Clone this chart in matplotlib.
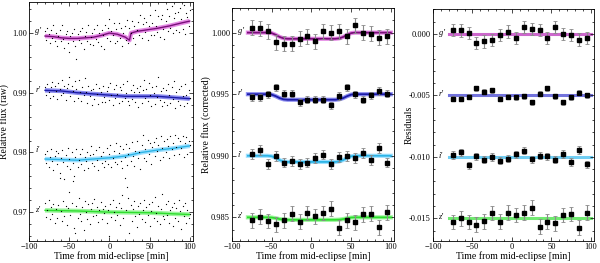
import numpy as np
import matplotlib.pyplot as plt
from matplotlib.ticker import AutoMinorLocator, FormatStrFormatter

plt.rcParams['font.family'] = ['Liberation Serif', 'DejaVu Serif']
plt.rcParams['font.size'] = 6.5

# ---- left panel: raw light curves (values in 1e-4 relative to band level) ----
t_raw_start, t_raw_step = -80, 1.5
g_raw = [3, -11, 9, -2, -17, 5, -9, 13, -14, 0,
         -22, -5, 5, -14, 13, -10, -25, -1, 4, -17,
         -31, -5, 0, -14, 6, -22, -43, -2, -11, 3,
         -16, 8, -27, -5, 2, -14, 14, -19, -7, 0,
         -20, 7, -10, 13, -15, 0, -22, 5, -4, -26,
         13, -8, 8, 23, -13, 4, -4, 16, -16, 7,
         -14, 17, -9, 8, -22, 0, 11, -12, 22, -17,
         9, 0, 20, -9, 12, -19, 5, 18, -4, 30,
         -8, 15, 26, 2, 19, -11, 12, 31, -3, 17,
         -3, 39, 11, 2, 28, -6, 23, 31, 6, -10,
         21, 40, 3, 29, 8, 46, 0, 25, 34, 5,
         36, 2, 42, 23, 7, 47, -2, 33, 27, 12,
         38]
r_raw = [10, -3, 14, 1, -8, 9, 18, -6, 12, 3,
         -10, 16, 6, -4, 21, 0, 11, -12, 8, 15,
         27, -5, 12, 3, -14, 19, 7, -9, 22, 1,
         -13, 9, -4, 24, 2, -17, 11, -6, 5, -20,
         6, -11, 14, -2, -19, 8, 1, -15, 11, -7,
         -16, 3, 10, -12, 17, -4, -21, 6, -9, 13,
         -2, -18, 9, 4, -14, 15, -8, 0, 20, -13,
         -20, 5, -10, 13, 1, -16, 8, -24, 2, 11,
         -17, 4, 22, -9, 7, -14, 16, -3, -22, 9,
         0, -19, 12, -7, 26, -12, 3, -23, 8, -15,
         5, -21, 14, -4, -17, 10, -10, 19, -25, 2,
         -14, 7, -20, 11, -6, -22, 15, -3, -18, 4,
         -8]
i_raw = [-3, -18, 2, -25, -8, 5, -14, -30, -6, 3,
         -20, -1, -35, -9, 4, -16, -44, -5, -22, 8,
         -11, -28, 0, -18, -40, -7, 6, -24, -13, -2,
         -19, 5, -30, -8, -15, 1, -26, -4, 11, -17,
         -2, -23, 4, -12, -29, 9, -6, -18, 0, -25,
         -14, 7, -20, -3, 12, -24, -9, 3, -16, 16,
         -19, -1, 10, -14, -26, 5, -8, 14, -21, -3,
         8, -15, 17, -6, -22, 3, 19, -10, 1, -27,
         12, 30, -9, 6, -14, 21, -2, 15, -20, 9,
         18, -6, 25, 2, 13, -12, 28, 7, -8, 20,
         0, 22, 11, -10, 27, 5, 16, -4, 29, 9,
         24, -3, 19, 8, 28, -7, 15, 26, -2, 20,
         12]
z_raw = [15, -8, 4, 20, -12, 9, -3, 14, -18, 6,
         -10, 12, 58, 2, -15, 19, -6, 10, -22, 7,
         33, -5, 16, 52, -27, -35, 11, -9, 24, -3,
         -14, 8, -30, 18, 1, -11, 13, -20, 5, 15,
         -7, 22, -4, 9, -16, 3, 17, -12, 6, -2,
         11, -19, 4, -40, 14, -8, 20, 1, -13, 9,
         -5, 16, -22, 7, 28, -10, 58, 3, 42, 24,
         -35, 12, -14, 6, 19, -6, -25, 10, -3, 15,
         -11, 4, 21, -17, 8, -4, 13, -23, 2, 17,
         -9, 25, -2, -15, 11, -20, 6, 30, -7, -12,
         14, -5, 19, -18, 3, 9, -24, 16, -10, 7,
         -14, 21, 2, -28, 11, -6, 15, -19, 4, -9,
         -3]

# trend lines (1e-4 relative to band level)
g_tx = [-80, -70, -60, -50, -40, -30, -20, -10, 0, 10, 20, 25, 27, 35, 50, 60, 75, 90, 100]
g_ty = [-5, -6, -8, -9, -9, -8, -7, -4, 0, -2, -7, -12, 0, 3, 6, 8, 12, 17, 20]
r_tx = [-80, -60, -40, -20, 0, 20, 40, 60, 80, 100]
r_ty = [4, 3, 0, -2, -4, -6, -6, -6, -8, -10]
i_tx = [-80, -60, -40, -20, 0, 20, 40, 60, 80, 100]
i_ty = [-11, -12, -13, -11, -9, -6, 0, 4, 7, 11]
z_tx = [-80, -40, 0, 50, 100]
z_ty = [3, 2, 0, -1, -4]

raw_levels = [1.00, 0.99, 0.98, 0.97]

# ---- binned data (middle) and residuals (right) ----
t_bin = [-75, -65, -55, -45, -35, -25, -15, -5, 5, 15, 25, 35, 45, 55, 65, 75, 85, 95]
g_bin = [1.0004, 1.00035, 1.0001, 0.9992, 0.9991, 0.9991, 0.9995, 0.9997, 0.9993,
         1.0001, 1.0000, 1.0001, 0.9997, 1.0006, 1.0000, 0.9999, 0.9996, 0.9997]
r_bin = [0.99475, 0.99475, 0.9950, 0.99555, 0.99505, 0.99505, 0.99435, 0.99455, 0.99455,
         0.99455, 0.9941, 0.99485, 0.99555, 0.9950, 0.99455, 0.9949, 0.99525, 0.99505]
i_bin = [0.99015, 0.99045, 0.98935, 0.9900, 0.98945, 0.9896, 0.98935, 0.98945, 0.9898,
         0.9901, 0.98935, 0.9899, 0.9900, 0.9898, 0.99025, 0.98965, 0.9906, 0.98945]
z_bin = [0.98475, 0.98505, 0.9847, 0.98445, 0.98475, 0.9853, 0.98465, 0.98535, 0.9851,
         0.98535, 0.9857, 0.98415, 0.98475, 0.9846, 0.98525, 0.9853, 0.9842, 0.9854]
bin_err = [0.0006, 0.0003, 0.0004, 0.0006]

g_res = [0.00035, 0.0003, 0.0001, -0.00075, -0.0006, -0.0005, -0.0001, 0.0002, -0.0003,
         0.0006, 0.0004, 0.00035, -0.0003, 0.0006, 0.0, -0.00005, -0.00045, -0.0003]
r_res = [-0.00527, -0.00527, -0.0051, -0.00443, -0.0047, -0.00457, -0.00527, -0.0051, -0.00516,
         -0.00508, -0.00554, -0.00486, -0.0044, -0.00505, -0.00557, -0.00516, -0.00478, -0.005]
i_res = [-0.00984, -0.00962, -0.01068, -0.00995, -0.01024, -0.0100, -0.0103, -0.01014, -0.0098,
         -0.0095, -0.01019, -0.0099, -0.00997, -0.01022, -0.00978, -0.01043, -0.00943, -0.0106]
z_res = [-0.0153, -0.0150, -0.0153, -0.01552, -0.01524, -0.01457, -0.01527, -0.01454, -0.01473,
         -0.01454, -0.01413, -0.01568, -0.01527, -0.0154, -0.01473, -0.01465, -0.01576, -0.01454]
res_err = [0.0005, 0.0002, 0.0003, 0.0006]

# eclipse model
t_mod = [-80, -55, -50, -45, -40, -35, -30, 30, 35, 40, 45, 50, 55, 100]
mod_shape = [0, 0, 0.08, 0.35, 0.7, 0.93, 1, 1, 0.93, 0.7, 0.35, 0.08, 0, 0]
mid_levels = [1.000, 0.995, 0.990, 0.985]
depths = [0.0005, 0.00045, 0.0005, 0.0002]
res_levels = [0.0, -0.005, -0.010, -0.015]

bands = ["g'", "r'", "i'", "z'"]
dark = ['#7a0f7a', '#1c1ca8', '#2cb4e6', '#2ede2e']
light = ['#e58ae5', '#8c8cf0', '#9ee0ff', '#9cf59c']
resc = ['#c44cc4', '#5a5ad6', '#58c6f2', '#58e658']


def style(ax, fmt, labx):
    ax.set_xlim(-100, 104)
    ax.xaxis.set_minor_locator(AutoMinorLocator(5))
    ax.yaxis.set_minor_locator(AutoMinorLocator(5))
    ax.yaxis.set_major_formatter(FormatStrFormatter(fmt))
    ax.tick_params(which='both', direction='in', top=True, right=True, labelsize=6, pad=1.5)
    ax.tick_params(which='major', length=3, width=0.5)
    ax.tick_params(which='minor', length=1.5, width=0.5)
    for s in ax.spines.values():
        s.set_linewidth(0.6)
    ax.set_xlabel('Time from mid-eclipse [min]', fontsize=7)
    ax.xaxis.set_label_coords(0.5, -0.043)
    ax.yaxis.set_label_coords(labx, 0.5)


fig = plt.figure(figsize=(6.0, 2.63), dpi=100)
ax1 = fig.add_axes([0.0483, 0.0837, 0.2733, 0.9087])
ax2 = fig.add_axes([0.3867, 0.0837, 0.27, 0.8859])
ax3 = fig.add_axes([0.7217, 0.0837, 0.2683, 0.8821])

raws = [g_raw, r_raw, i_raw, z_raw]
trends = [(g_tx, g_ty), (r_tx, r_ty), (i_tx, i_ty), (z_tx, z_ty)]
for k in range(4):
    lev = raw_levels[k]
    t = t_raw_start + t_raw_step * np.arange(len(raws[k]))
    y = lev + np.array(raws[k]) * 1e-4
    tx, ty = trends[k]
    ty = lev + np.array(ty) * 1e-4
    ax1.plot(tx, ty, color=light[k], lw=3.2, solid_capstyle='butt', zorder=1)
    ax1.plot(tx, ty, color=dark[k], lw=1.0, zorder=2)
    ax1.plot(t, y, 'o', color='k', ms=0.9, mew=0, zorder=3)
    ax1.text(-92, lev + 0.0004, bands[k], style='italic', fontsize=6, ha='left', va='center')
ax1.set_ylim(0.96517, 1.0052)
ax1.set_yticks([0.97, 0.98, 0.99, 1.00])
ax1.set_ylabel('Relative flux (raw)', fontsize=7)
style(ax1, '%.2f', -0.122)

bins = [g_bin, r_bin, i_bin, z_bin]
for k in range(4):
    ym = mid_levels[k] - depths[k] * np.array(mod_shape)
    ax2.plot(t_mod, ym, color=light[k], lw=3.0, zorder=1)
    ax2.plot(t_mod, ym, color=dark[k], lw=1.3, zorder=2)
    ax2.errorbar(t_bin, bins[k], yerr=bin_err[k], fmt='s', color='k', ms=2.6,
                 ecolor='#8a8a8a', elinewidth=0.8, capsize=1.3, capthick=0.6, zorder=3)
    ax2.text(-93, mid_levels[k] + 0.0001, bands[k], style='italic', fontsize=6, ha='left', va='center')
ax2.set_ylim(0.98308, 1.002)
ax2.set_yticks([0.985, 0.990, 0.995, 1.000])
ax2.set_ylabel('Relative flux (corrected)', fontsize=7)
style(ax2, '%.3f', -0.13)

ress = [g_res, r_res, i_res, z_res]
for k in range(4):
    ax3.plot([t_mod[0], t_mod[-1]], [res_levels[k]] * 2, color=resc[k], lw=2.2, alpha=0.85, zorder=1)
    ax3.errorbar(t_bin, ress[k], yerr=res_err[k], fmt='s', color='k', ms=2.6,
                 ecolor='#8a8a8a', elinewidth=0.8, capsize=1.3, capthick=0.6, zorder=3)
    ax3.text(-93, res_levels[k] + 0.0001, bands[k], style='italic', fontsize=6, ha='left', va='center')
ax3.set_ylim(-0.01685, 0.00204)
ax3.set_yticks([-0.015, -0.010, -0.005, 0.0])
ax3.set_ylabel('Residuals', fontsize=7)
style(ax3, '%.3f', -0.12)

fig.savefig('out.png', dpi=100)
